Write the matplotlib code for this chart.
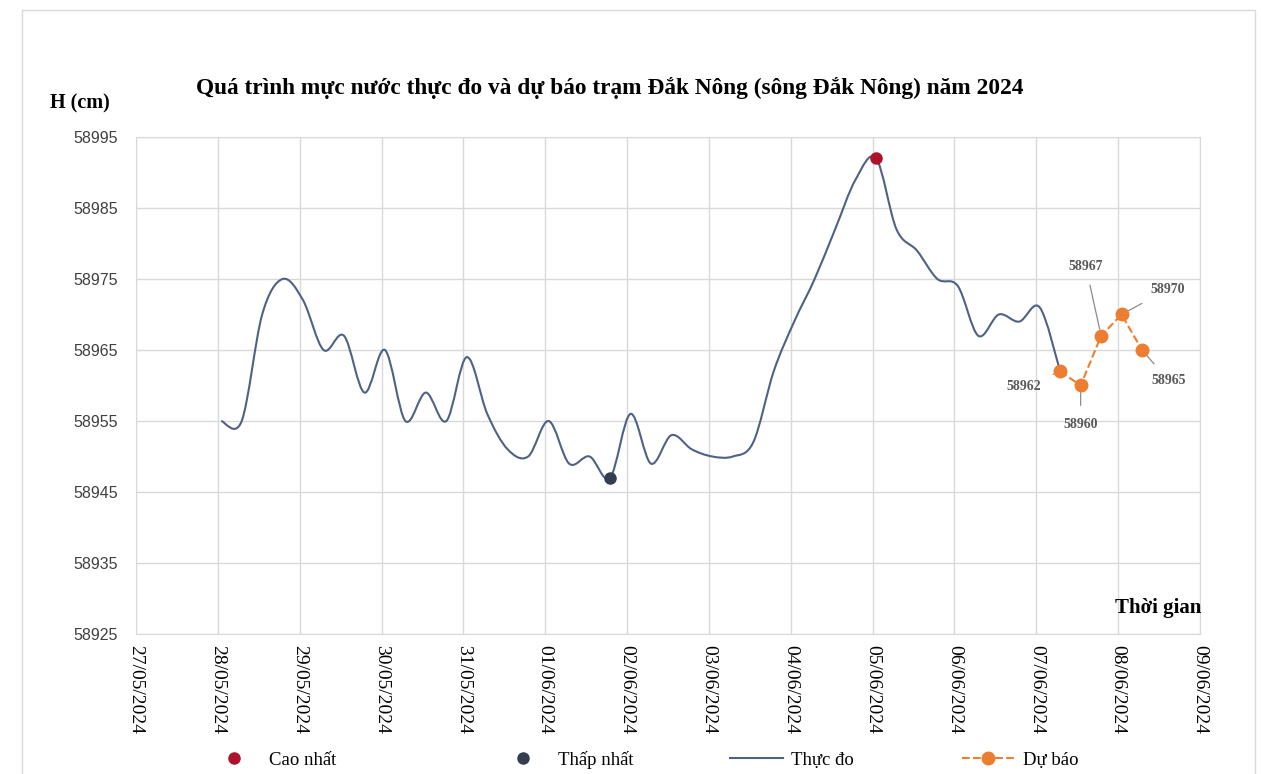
import numpy as np
import pandas as pd
import matplotlib
matplotlib.use('Agg')
import matplotlib.pyplot as plt
import matplotlib.dates as mdates
from matplotlib.path import Path
from matplotlib.patches import PathPatch, Rectangle
from matplotlib.lines import Line2D

# muc nuoc thuc do (obs at 1h, 7h, 13h, 19h), tu 28/05 01h den 07/06 07h
obs_start = '2024-05-28 01:00'
obs_level = [58955, 58955, 58970, 58975,   # 28/05
             58972, 58965, 58967, 58959,   # 29/05
             58965, 58955, 58959, 58955,   # 30/05
             58964, 58956, 58951, 58950,   # 31/05
             58955, 58949, 58950, 58947,   # 01/06
             58956, 58949, 58953, 58951,   # 02/06
             58950, 58950, 58952, 58962,   # 03/06
             58969, 58975, 58982, 58989,   # 04/06
             58992, 58982, 58979, 58975,   # 05/06
             58974, 58967, 58970, 58969,   # 06/06
             58971, 58962]                 # 07/06
# du bao
fc_start = '2024-06-07 07:00'
fc_level = [58962, 58960, 58967, 58970, 58965]

x_start, x_end = '2024-05-27', '2024-06-09'
y_ticks = [58925, 58935, 58945, 58955, 58965, 58975, 58985, 58995]

title = 'Quá trình mực nước thực đo và dự báo trạm Đắk Nông (sông Đắk Nông) năm 2024'

obs_t = pd.date_range(obs_start, periods=len(obs_level), freq='6h')
fc_t = pd.date_range(fc_start, periods=len(fc_level), freq='6h')
ox = mdates.date2num(obs_t.to_pydatetime())
fx = mdates.date2num(fc_t.to_pydatetime())
oy = np.array(obs_level, dtype=float)

c_obs = '#4f6283'
c_fc = '#ed7d31'
c_max = '#b0112b'
c_min = '#333f50'
serif = ['Liberation Serif', 'DejaVu Serif']

fig = plt.figure(figsize=(12.61, 7.74), dpi=100)
ax = fig.add_axes([136/1261, 1-634/774, (1200-136)/1261, (634-137)/774])

# smoothed line like excel (catmull-rom -> bezier)
pts = np.column_stack([ox, oy])
ext = np.vstack([pts[0], pts, pts[-1]])
verts = [pts[0]]
codes = [Path.MOVETO]
for i in range(len(pts)-1):
    p0, p1, p2, p3 = ext[i], ext[i+1], ext[i+2], ext[i+3]
    verts += [p1 + (p2-p0)/6, p2 - (p3-p1)/6, p2]
    codes += [Path.CURVE4]*3
ax.add_patch(PathPatch(Path(verts, codes), fill=False, edgecolor=c_obs, lw=1.5, zorder=3))

ax.plot(fx, fc_level, ls='--', color=c_fc, lw=1.5, marker='o', ms=9, zorder=4)

imax = int(np.argmax(oy))
imin = int(np.argmin(oy))
ax.plot(ox[imax], oy[imax], 'o', color=c_max, ms=8, zorder=5)
ax.plot(ox[imin], oy[imin], 'o', color=c_min, ms=8, zorder=5)

# nhan du bao
offsets = [(-26, -11), (0, -28), (-11, 50), (33, 18), (19, -22)]
for t, v, off in zip(fx, fc_level, offsets):
    ax.annotate(str(v), (t, v), xytext=off, textcoords='offset points',
                ha='center', va='center', fontsize=10, color='#595959',
                family=serif, fontweight='bold',
                arrowprops=dict(arrowstyle='-', color='#8c8c8c', lw=0.9,
                                shrinkA=7, shrinkB=5))

ax.set_xlim(mdates.datestr2num(x_start), mdates.datestr2num(x_end))
ax.set_ylim(y_ticks[0], y_ticks[-1])
ax.set_yticks(y_ticks)
ax.xaxis.set_major_locator(mdates.DayLocator())
ax.xaxis.set_major_formatter(mdates.DateFormatter('%d/%m/%Y'))
ax.grid(True, color='#d9d9d9', lw=1)
ax.set_axisbelow(True)
for s in ax.spines.values():
    s.set_color('#d9d9d9')
ax.tick_params(length=0)
ax.tick_params(axis='y', pad=13, labelsize=11.5, labelcolor='#404040')
ax.tick_params(axis='x', pad=8)
for lb in ax.get_yticklabels():
    lb.set_family('Liberation Sans')
for lb in ax.get_xticklabels():
    lb.set_rotation(-90)
    lb.set_family(serif)
    lb.set_fontsize(14)
    lb.set_va('top')
    lb.set_ha('center')

fig.text(610/1261, 1-88/774, title, ha='center', va='center', family=serif,
         fontsize=16.8, fontweight='bold')
fig.text(80/1261, 1-103/774, 'H (cm)', ha='center', va='center', family=serif,
         fontsize=14.5, fontweight='bold')
fig.text(1158/1261, 1-608/774, 'Thời gian', ha='center', va='center', family=serif,
         fontsize=15, fontweight='bold')

# chu giai
items = [
    (Line2D([], [], ls='none', marker='o', color=c_max, ms=8), 'Cao nhất', 208),
    (Line2D([], [], ls='none', marker='o', color=c_min, ms=8), 'Thấp nhất', 497),
    (Line2D([], [], color=c_obs, lw=1.5), 'Thực đo', 730),
    (Line2D([], [], color=c_fc, ls='--', lw=1.5, marker='o', ms=9), 'Dự báo', 962),
]
for h, lab, px in items:
    lg = fig.legend([h], [lab], loc='center left', bbox_to_anchor=(px/1261, 1-760/774),
                    frameon=False, handlelength=2.8, handletextpad=0.45,
                    borderpad=0, borderaxespad=0, prop={'family': serif, 'size': 13.5})

fig.patches.append(Rectangle((22/1261, -0.01), (1255-22)/1261, 1-10/774+0.01,
                             transform=fig.transFigure, fill=False,
                             edgecolor='#d9d9d9', lw=1))

fig.savefig('out.png', dpi=100)
